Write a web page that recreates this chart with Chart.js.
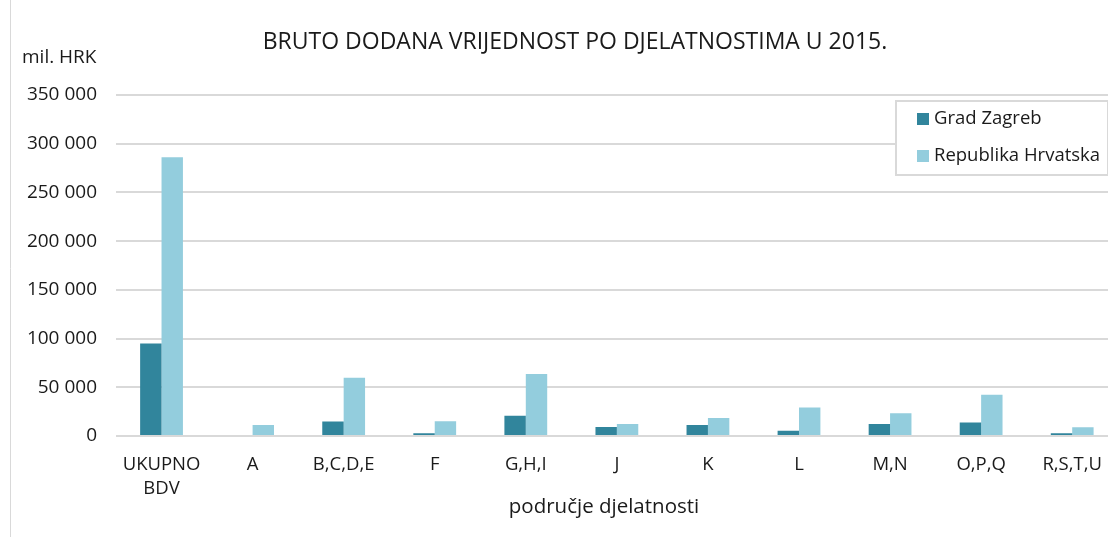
<!DOCTYPE html>
<html>
<head>
<meta charset="utf-8">
<script src="https://cdn.jsdelivr.net/npm/chart.js@4/dist/chart.umd.min.js"></script>
<style>
  html, body { margin: 0; padding: 0; background: #fff; overflow: hidden; }
  /* the plot area runs a little past the right edge of the picture */
  #wrap { width: 1119px; height: 537px; position: relative; }
</style>
</head>
<body>
<div id="wrap"><canvas id="myChart"></canvas></div>
<script>
const categories = [['UKUPNO', 'BDV'], 'A', 'B,C,D,E', 'F', 'G,H,I', 'J', 'K', 'L', 'M,N', 'O,P,Q', 'R,S,T,U']
const gradZagreb = [95000, 0, 15000, 2800, 20800, 9300, 11400, 5500, 12400, 13800, 2800]
const republikaHrvatska = [286000, 11300, 59800, 15100, 63600, 12400, 18600, 29300, 23400, 42400, 9000]
const yTicks = [0, 50000, 100000, 150000, 200000, 250000, 300000, 350000]

const FONT = "'Open Sans', sans-serif"
const TEXT = '#1a1a1a'
const fmt = v => String(v).replace(/\B(?=(\d{3})+(?!\d))/g, ' ')

// title, unit label, axis title and the legend box inside the plot
const extras = {
    id: 'extras',
    afterDraw(chart) {
        const c = chart.ctx
        c.save()
        c.strokeStyle = '#d9d9d9'
        c.lineWidth = 1
        c.beginPath(); c.moveTo(10.5, 0); c.lineTo(10.5, 537); c.stroke()

        c.fillStyle = TEXT
        c.textBaseline = 'alphabetic'
        c.textAlign = 'center'
        c.font = '23px ' + FONT
        c.fillText('BRUTO DODANA VRIJEDNOST PO DJELATNOSTIMA U 2015.', 575, 49)
        c.font = '20.5px ' + FONT
        c.fillText('područje djelatnosti', 604, 513)

        c.textAlign = 'left'
        c.font = '19px ' + FONT
        c.fillText('mil. HRK', 22, 63)

        // legend
        c.fillStyle = '#fff'
        c.fillRect(896, 101, 212, 74)
        c.strokeStyle = '#d9d9d9'
        c.lineWidth = 2
        c.strokeRect(896, 101, 212, 74)
        chart.data.datasets.forEach((ds, i) => {
            const base = 124 + i * 37
            c.fillStyle = ds.backgroundColor
            c.fillRect(917, base - 11, 12, 12)
            c.fillStyle = TEXT
            c.font = '18.5px ' + FONT
            c.fillText(ds.label, 934, base)
        })
        c.restore()
    }
}

const ctx = document.getElementById('myChart').getContext('2d')
const myChart = new Chart(ctx, {
    type: 'bar',
    data: {
        labels: categories,
        datasets: [{
            label: 'Grad Zagreb',
            data: gradZagreb,
            backgroundColor: '#31859c',
        }, {
            label: 'Republika Hrvatska',
            data: republikaHrvatska,
            backgroundColor: '#93cddd',
        }]
    },
    options: {
        responsive: true,
        maintainAspectRatio: false,
        animation: false,
        layout: { padding: { left: 10, right: 0, top: 95, bottom: 0 } },
        datasets: { bar: { categoryPercentage: 0.47, barPercentage: 1 } },
        plugins: {
            legend: { display: false },
            tooltip: { enabled: false },
            title: { display: false }
        },
        scales: {
            x: {
                grid: { display: false, drawTicks: false },
                border: { display: false },
                ticks: {
                    color: TEXT,
                    padding: 17,
                    maxRotation: 0,
                    autoSkip: false,
                    font: { family: FONT, size: 18.5, lineHeight: 1.3 }
                },
                afterFit(scale) { scale.height = 537 - 436 }
            },
            y: {
                min: 0,
                max: 350000,
                afterBuildTicks(scale) { scale.ticks = yTicks.map(v => ({ value: v })) },
                grid: { color: '#d9d9d9', lineWidth: 2, drawTicks: false },
                border: { display: false },
                ticks: {
                    color: TEXT,
                    padding: 19,
                    font: { family: FONT, size: 19 },
                    callback: v => fmt(v)
                },
                afterFit(scale) { scale.width = 116 - 10 }
            }
        }
    },
    plugins: [extras]
})
</script>
</body>
</html>
